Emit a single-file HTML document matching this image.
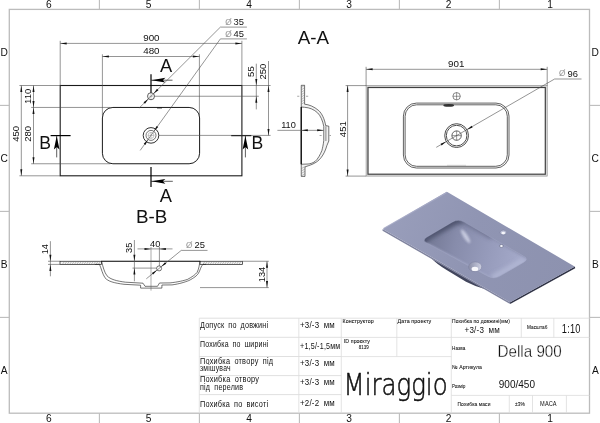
<!DOCTYPE html>
<html lang="uk"><head><meta charset="utf-8"><title>Miraggio Della 900</title>
<style>
html,body{margin:0;padding:0;background:#fff;}
body{width:600px;height:423px;overflow:hidden;font-family:"Liberation Sans",Arial,sans-serif;}
svg{display:block;will-change:transform;}
</style></head><body>
<svg width="600" height="423" viewBox="0 0 600 423">
<rect width="600" height="423" fill="#fff"/>
<rect x="9.3" y="9.4" width="580.2" height="403.8" fill="none" stroke="#bcbcbc" stroke-width="1.3"/>
<line x1="99.40" y1="0.00" x2="99.40" y2="9.40" stroke="#bcbcbc" stroke-width="1.1" />
<line x1="99.40" y1="413.20" x2="99.40" y2="423.00" stroke="#bcbcbc" stroke-width="1.1" />
<line x1="199.40" y1="0.00" x2="199.40" y2="9.40" stroke="#bcbcbc" stroke-width="1.1" />
<line x1="199.40" y1="413.20" x2="199.40" y2="423.00" stroke="#bcbcbc" stroke-width="1.1" />
<line x1="299.40" y1="0.00" x2="299.40" y2="9.40" stroke="#bcbcbc" stroke-width="1.1" />
<line x1="299.40" y1="413.20" x2="299.40" y2="423.00" stroke="#bcbcbc" stroke-width="1.1" />
<line x1="399.40" y1="0.00" x2="399.40" y2="9.40" stroke="#bcbcbc" stroke-width="1.1" />
<line x1="399.40" y1="413.20" x2="399.40" y2="423.00" stroke="#bcbcbc" stroke-width="1.1" />
<line x1="499.40" y1="0.00" x2="499.40" y2="9.40" stroke="#bcbcbc" stroke-width="1.1" />
<line x1="499.40" y1="413.20" x2="499.40" y2="423.00" stroke="#bcbcbc" stroke-width="1.1" />
<line x1="0.00" y1="105.40" x2="9.30" y2="105.40" stroke="#bcbcbc" stroke-width="1.1" />
<line x1="589.50" y1="105.40" x2="600.00" y2="105.40" stroke="#bcbcbc" stroke-width="1.1" />
<line x1="0.00" y1="211.40" x2="9.30" y2="211.40" stroke="#bcbcbc" stroke-width="1.1" />
<line x1="589.50" y1="211.40" x2="600.00" y2="211.40" stroke="#bcbcbc" stroke-width="1.1" />
<line x1="0.00" y1="317.40" x2="9.30" y2="317.40" stroke="#bcbcbc" stroke-width="1.1" />
<line x1="589.50" y1="317.40" x2="600.00" y2="317.40" stroke="#bcbcbc" stroke-width="1.1" />
<text x="48.80" y="7.50" font-size="10.2" text-anchor="middle" fill="#111" font-family='"Liberation Sans", Arial, sans-serif' >6</text>
<text x="48.80" y="422.00" font-size="10.2" text-anchor="middle" fill="#111" font-family='"Liberation Sans", Arial, sans-serif' >6</text>
<text x="148.60" y="7.50" font-size="10.2" text-anchor="middle" fill="#111" font-family='"Liberation Sans", Arial, sans-serif' >5</text>
<text x="148.60" y="422.00" font-size="10.2" text-anchor="middle" fill="#111" font-family='"Liberation Sans", Arial, sans-serif' >5</text>
<text x="249.00" y="7.50" font-size="10.2" text-anchor="middle" fill="#111" font-family='"Liberation Sans", Arial, sans-serif' >4</text>
<text x="249.00" y="422.00" font-size="10.2" text-anchor="middle" fill="#111" font-family='"Liberation Sans", Arial, sans-serif' >4</text>
<text x="349.00" y="7.50" font-size="10.2" text-anchor="middle" fill="#111" font-family='"Liberation Sans", Arial, sans-serif' >3</text>
<text x="349.00" y="422.00" font-size="10.2" text-anchor="middle" fill="#111" font-family='"Liberation Sans", Arial, sans-serif' >3</text>
<text x="448.60" y="7.50" font-size="10.2" text-anchor="middle" fill="#111" font-family='"Liberation Sans", Arial, sans-serif' >2</text>
<text x="448.60" y="422.00" font-size="10.2" text-anchor="middle" fill="#111" font-family='"Liberation Sans", Arial, sans-serif' >2</text>
<text x="550.20" y="7.50" font-size="10.2" text-anchor="middle" fill="#111" font-family='"Liberation Sans", Arial, sans-serif' >1</text>
<text x="550.20" y="422.00" font-size="10.2" text-anchor="middle" fill="#111" font-family='"Liberation Sans", Arial, sans-serif' >1</text>
<text x="4.20" y="55.80" font-size="10.2" text-anchor="middle" fill="#111" font-family='"Liberation Sans", Arial, sans-serif' >D</text>
<text x="595.30" y="55.80" font-size="10.2" text-anchor="middle" fill="#111" font-family='"Liberation Sans", Arial, sans-serif' >D</text>
<text x="4.20" y="161.80" font-size="10.2" text-anchor="middle" fill="#111" font-family='"Liberation Sans", Arial, sans-serif' >C</text>
<text x="595.30" y="161.80" font-size="10.2" text-anchor="middle" fill="#111" font-family='"Liberation Sans", Arial, sans-serif' >C</text>
<text x="4.20" y="267.80" font-size="10.2" text-anchor="middle" fill="#111" font-family='"Liberation Sans", Arial, sans-serif' >B</text>
<text x="595.30" y="267.80" font-size="10.2" text-anchor="middle" fill="#111" font-family='"Liberation Sans", Arial, sans-serif' >B</text>
<text x="4.20" y="373.80" font-size="10.2" text-anchor="middle" fill="#111" font-family='"Liberation Sans", Arial, sans-serif' >A</text>
<text x="595.30" y="373.80" font-size="10.2" text-anchor="middle" fill="#111" font-family='"Liberation Sans", Arial, sans-serif' >A</text>
<rect x="60.2" y="85.5" width="181.70" height="90.30" fill="none" stroke="#1a1a1a" stroke-width="1.1"/>
<rect x="102.4" y="107.45" width="97.20" height="56.30" rx="10.5" ry="10.5" fill="none" stroke="#1a1a1a" stroke-width="1.0"/>
<circle cx="151.00" cy="96.25" r="3.50" fill="none" stroke="#1a1a1a" stroke-width="0.7"/>
<line x1="148.50" y1="96.25" x2="153.50" y2="96.25" stroke="#777" stroke-width="0.4" />
<line x1="151.00" y1="93.75" x2="151.00" y2="98.75" stroke="#777" stroke-width="0.4" />
<circle cx="151.00" cy="135.40" r="7.80" fill="none" stroke="#1a1a1a" stroke-width="0.9"/>
<circle cx="151.00" cy="135.40" r="5.00" fill="none" stroke="#1a1a1a" stroke-width="0.6"/>
<circle cx="151.00" cy="135.40" r="3.00" fill="none" stroke="#777" stroke-width="0.4"/>
<line x1="148.00" y1="135.40" x2="154.00" y2="135.40" stroke="#777" stroke-width="0.4" />
<line x1="151.00" y1="132.40" x2="151.00" y2="138.40" stroke="#777" stroke-width="0.4" />
<line x1="157.00" y1="107.90" x2="162.00" y2="107.90" stroke="#1a1a1a" stroke-width="1.0" />
<line x1="151.00" y1="74.30" x2="151.00" y2="92.80" stroke="#000" stroke-width="1.2" />
<line x1="151.00" y1="80.20" x2="172.50" y2="80.20" stroke="#1a1a1a" stroke-width="0.7" />
<polygon points="151.40,80.20 165.40,77.80 162.80,80.20 165.40,82.60" fill="#000"/>
<line x1="151.00" y1="167.00" x2="151.00" y2="187.00" stroke="#000" stroke-width="1.2" />
<line x1="151.00" y1="181.30" x2="172.80" y2="181.30" stroke="#1a1a1a" stroke-width="0.7" />
<polygon points="151.40,181.30 165.40,178.90 162.80,181.30 165.40,183.70" fill="#000"/>
<text x="166.00" y="72.40" font-size="18.3" text-anchor="middle" fill="#111" font-family='"Liberation Sans", Arial, sans-serif' >A</text>
<text x="165.90" y="202.00" font-size="18.3" text-anchor="middle" fill="#111" font-family='"Liberation Sans", Arial, sans-serif' >A</text>
<line x1="50.60" y1="135.60" x2="70.60" y2="135.60" stroke="#000" stroke-width="1.2" />
<line x1="56.70" y1="135.60" x2="56.70" y2="157.40" stroke="#1a1a1a" stroke-width="0.7" />
<polygon points="56.70,136.00 59.50,149.50 56.70,146.90 53.90,149.50" fill="#000"/>
<line x1="231.20" y1="135.60" x2="251.30" y2="135.60" stroke="#000" stroke-width="1.2" />
<line x1="245.40" y1="135.60" x2="245.40" y2="157.40" stroke="#1a1a1a" stroke-width="0.7" />
<polygon points="245.40,136.00 248.20,149.50 245.40,146.90 242.60,149.50" fill="#000"/>
<text x="45.00" y="149.00" font-size="17.6" text-anchor="middle" fill="#111" font-family='"Liberation Sans", Arial, sans-serif' >B</text>
<text x="257.30" y="148.90" font-size="17.6" text-anchor="middle" fill="#111" font-family='"Liberation Sans", Arial, sans-serif' >B</text>
<line x1="60.20" y1="40.80" x2="60.20" y2="85.50" stroke="#4d4d4d" stroke-width="0.6" />
<line x1="241.90" y1="40.80" x2="241.90" y2="85.50" stroke="#4d4d4d" stroke-width="0.6" />
<line x1="60.20" y1="43.40" x2="241.90" y2="43.40" stroke="#4d4d4d" stroke-width="0.6" />
<polygon points="60.20,43.40 66.70,42.40 66.70,44.40" fill="#111"/>
<polygon points="241.90,43.40 235.40,44.40 235.40,42.40" fill="#111"/>
<text x="151.40" y="40.90" font-size="9.8" text-anchor="middle" fill="#111" font-family='"Liberation Sans", Arial, sans-serif' >900</text>
<line x1="102.40" y1="54.30" x2="102.40" y2="115.45" stroke="#4d4d4d" stroke-width="0.6" />
<line x1="199.40" y1="54.30" x2="199.40" y2="115.45" stroke="#4d4d4d" stroke-width="0.6" />
<line x1="102.40" y1="56.50" x2="199.60" y2="56.50" stroke="#4d4d4d" stroke-width="0.6" />
<polygon points="102.40,56.50 108.90,55.50 108.90,57.50" fill="#111"/>
<polygon points="199.40,56.50 192.90,57.50 192.90,55.50" fill="#111"/>
<text x="151.40" y="54.40" font-size="9.8" text-anchor="middle" fill="#111" font-family='"Liberation Sans", Arial, sans-serif' >480</text>
<line x1="19.40" y1="85.50" x2="60.20" y2="85.50" stroke="#4d4d4d" stroke-width="0.6" />
<line x1="19.40" y1="175.80" x2="60.20" y2="175.80" stroke="#4d4d4d" stroke-width="0.6" />
<line x1="21.30" y1="85.50" x2="21.30" y2="175.80" stroke="#4d4d4d" stroke-width="0.6" />
<polygon points="21.30,85.50 22.30,92.00 20.30,92.00" fill="#111"/>
<polygon points="21.30,175.80 20.30,169.30 22.30,169.30" fill="#111"/>
<text x="18.90" y="133.80" font-size="9.5" text-anchor="middle" fill="#111" font-family='"Liberation Sans", Arial, sans-serif' transform="rotate(-90 18.90 133.80)" >450</text>
<line x1="31.20" y1="107.45" x2="110.40" y2="107.45" stroke="#4d4d4d" stroke-width="0.6" />
<line x1="31.20" y1="163.75" x2="110.40" y2="163.75" stroke="#4d4d4d" stroke-width="0.6" />
<line x1="33.50" y1="85.50" x2="33.50" y2="163.75" stroke="#4d4d4d" stroke-width="0.6" />
<polygon points="33.50,85.50 34.50,92.00 32.50,92.00" fill="#111"/>
<polygon points="33.50,107.45 32.50,100.95 34.50,100.95" fill="#111"/>
<polygon points="33.50,107.45 34.50,113.95 32.50,113.95" fill="#111"/>
<polygon points="33.50,163.75 32.50,157.25 34.50,157.25" fill="#111"/>
<text x="31.30" y="96.30" font-size="9.5" text-anchor="middle" fill="#111" font-family='"Liberation Sans", Arial, sans-serif' transform="rotate(-90 31.30 96.30)" >110</text>
<text x="31.30" y="133.80" font-size="9.5" text-anchor="middle" fill="#111" font-family='"Liberation Sans", Arial, sans-serif' transform="rotate(-90 31.30 133.80)" >280</text>
<line x1="241.90" y1="85.50" x2="270.60" y2="85.50" stroke="#4d4d4d" stroke-width="0.6" />
<line x1="154.50" y1="96.25" x2="258.80" y2="96.25" stroke="#4d4d4d" stroke-width="0.6" />
<line x1="158.80" y1="135.40" x2="270.60" y2="135.40" stroke="#4d4d4d" stroke-width="0.6" />
<line x1="256.30" y1="63.70" x2="256.30" y2="109.40" stroke="#4d4d4d" stroke-width="0.6" />
<polygon points="256.30,85.50 255.30,79.00 257.30,79.00" fill="#111"/>
<polygon points="256.30,96.25 257.30,102.75 255.30,102.75" fill="#111"/>
<line x1="268.50" y1="61.00" x2="268.50" y2="135.40" stroke="#4d4d4d" stroke-width="0.6" />
<polygon points="268.50,85.50 269.50,92.00 267.50,92.00" fill="#111"/>
<polygon points="268.50,135.40 267.50,128.90 269.50,128.90" fill="#111"/>
<text x="254.50" y="71.60" font-size="9.5" text-anchor="middle" fill="#111" font-family='"Liberation Sans", Arial, sans-serif' transform="rotate(-90 254.50 71.60)" >55</text>
<text x="266.40" y="71.60" font-size="9.5" text-anchor="middle" fill="#111" font-family='"Liberation Sans", Arial, sans-serif' transform="rotate(-90 266.40 71.60)" >250</text>
<line x1="220.40" y1="27.10" x2="246.90" y2="27.10" stroke="#4d4d4d" stroke-width="0.6" />
<line x1="220.40" y1="27.10" x2="138.96" y2="108.25" stroke="#4d4d4d" stroke-width="0.6" />
<polygon points="153.48,93.78 157.02,88.84 158.44,90.25" fill="#111"/>
<polygon points="148.52,98.72 144.98,103.66 143.56,102.25" fill="#111"/>
<line x1="220.40" y1="38.90" x2="246.90" y2="38.90" stroke="#4d4d4d" stroke-width="0.6" />
<line x1="220.40" y1="38.90" x2="140.20" y2="150.42" stroke="#4d4d4d" stroke-width="0.6" />
<polygon points="153.92,131.34 156.61,125.89 158.23,127.05" fill="#111"/>
<polygon points="148.08,139.46 145.39,144.91 143.77,143.75" fill="#111"/>
<text y="24.70" font-size="9.4" fill="#111" font-family='"Liberation Sans", Arial, sans-serif'><tspan x="225.20" y="24.60" font-size="8.4" fill="#505050" stroke="#fff" stroke-width="0.25" paint-order="fill stroke">Ø</tspan><tspan x="233.60" y="24.70">35</tspan></text>
<text y="37.00" font-size="9.4" fill="#111" font-family='"Liberation Sans", Arial, sans-serif'><tspan x="225.20" y="36.80" font-size="8.4" fill="#505050" stroke="#fff" stroke-width="0.25" paint-order="fill stroke">Ø</tspan><tspan x="233.60" y="37.00">45</tspan></text>
<text x="313.30" y="44.30" font-size="18.8" text-anchor="middle" fill="#111" font-family='"Liberation Sans", Arial, sans-serif' >A-A</text>
<path d="M301.25 85.3 L304.6 85.3 L304.6 104.2 C309 104.6 314 106.5 318.75 110.6 C322 113.6 324.5 119 325.7 125.6 L328.8 126.2 L328.8 141 L326.9 145.5 C325.5 150.5 323.5 154.5 321.25 157.4 C318.5 161 315 163.6 308.75 165.6 L305 166.9 L305 176.4 L301.25 176.4 Z" fill="#f2f2f2" stroke="#1a1a1a" stroke-width="0.6"/>
<path d="M301.25 107 L304.6 107.3 C309.5 107.6 314 109.5 317.5 112.75 C320.5 115.6 322.6 120.5 323.75 126.25 L323.75 140.5 C323.3 145 322.5 148 321.9 150.5 C320.3 154.6 317.7 159.3 315 161.5 C312.5 163.2 310 163.8 308.1 164 L301.25 164.25 Z" fill="#fff" stroke="#1a1a1a" stroke-width="0.6"/>
<path d="M301.25 87.5 L304.6 85.3 M301.25 89.9 L304.6 87.7 M301.25 92.3 L304.6 90.1 M301.25 94.7 L304.6 92.5 M301.25 97.1 L304.6 94.9 M301.25 99.5 L304.6 97.3 M301.25 101.9 L304.6 99.7 M301.25 104.3 L304.6 102.1 M301.25 168.7 L305 166.5 M301.25 171.1 L305 168.9 M301.25 173.5 L305 171.3 M301.25 175.9 L305 173.7 " stroke="#6a6a6a" stroke-width="0.4" fill="none"/>
<line x1="301.25" y1="106.90" x2="301.25" y2="164.30" stroke="#000" stroke-width="1.1" />
<line x1="325.90" y1="126.30" x2="325.90" y2="141.00" stroke="#1a1a1a" stroke-width="0.5" />
<line x1="297.20" y1="96.25" x2="299.30" y2="96.25" stroke="#4d4d4d" stroke-width="0.5" />
<line x1="306.00" y1="96.25" x2="308.20" y2="96.25" stroke="#4d4d4d" stroke-width="0.5" />
<line x1="319.60" y1="135.50" x2="321.60" y2="135.50" stroke="#4d4d4d" stroke-width="0.5" />
<line x1="329.50" y1="135.50" x2="331.00" y2="135.50" stroke="#4d4d4d" stroke-width="0.5" />
<line x1="277.40" y1="130.35" x2="323.60" y2="130.35" stroke="#4d4d4d" stroke-width="0.6" />
<polygon points="301.30,130.35 307.80,129.35 307.80,131.35" fill="#111"/>
<polygon points="323.70,130.35 317.20,131.35 317.20,129.35" fill="#111"/>
<text x="288.50" y="128.10" font-size="9.2" text-anchor="middle" fill="#111" font-family='"Liberation Sans", Arial, sans-serif' >110</text>
<rect x="366.1" y="85.6" width="181.10" height="90.50" fill="#dcdcdc" stroke="#8c8c8c" stroke-width="0.65"/>
<rect x="368.0" y="87.5" width="177.30" height="86.70" fill="#fff" stroke="#404040" stroke-width="1.2"/>
<rect x="403.4" y="103.1" width="105.60" height="64.90" rx="13" ry="13" fill="none" stroke="#3a3a3a" stroke-width="0.8"/>
<rect x="405.09999999999997" y="104.8" width="102.20" height="61.50" rx="11.5" ry="11.5" fill="none" stroke="#3a3a3a" stroke-width="0.8"/>
<circle cx="456.60" cy="96.25" r="3.70" fill="none" stroke="#3a3a3a" stroke-width="0.6"/>
<line x1="452.90" y1="96.25" x2="460.30" y2="96.25" stroke="#3a3a3a" stroke-width="0.5" />
<line x1="456.60" y1="92.50" x2="456.60" y2="100.00" stroke="#3a3a3a" stroke-width="0.5" />
<ellipse cx="448.7" cy="105.4" rx="5.4" ry="1.4" fill="#333"/>
<circle cx="456.60" cy="135.60" r="11.90" fill="none" stroke="#3a3a3a" stroke-width="0.9"/>
<circle cx="456.60" cy="135.60" r="10.30" fill="none" stroke="#3a3a3a" stroke-width="0.9"/>
<circle cx="456.60" cy="135.60" r="4.70" fill="none" stroke="#3a3a3a" stroke-width="0.8"/>
<line x1="451.90" y1="135.60" x2="461.30" y2="135.60" stroke="#3a3a3a" stroke-width="0.5" />
<line x1="456.60" y1="130.90" x2="456.60" y2="140.30" stroke="#3a3a3a" stroke-width="0.5" />
<line x1="447.00" y1="165.30" x2="466.00" y2="165.30" stroke="#aaa" stroke-width="0.5" />
<line x1="366.10" y1="66.80" x2="366.10" y2="85.60" stroke="#4d4d4d" stroke-width="0.6" />
<line x1="547.20" y1="66.80" x2="547.20" y2="85.60" stroke="#4d4d4d" stroke-width="0.6" />
<line x1="366.10" y1="69.30" x2="547.20" y2="69.30" stroke="#4d4d4d" stroke-width="0.6" />
<polygon points="366.10,69.30 372.60,68.30 372.60,70.30" fill="#111"/>
<polygon points="547.20,69.30 540.70,70.30 540.70,68.30" fill="#111"/>
<text x="456.30" y="66.80" font-size="9.8" text-anchor="middle" fill="#111" font-family='"Liberation Sans", Arial, sans-serif' >901</text>
<line x1="345.60" y1="85.60" x2="366.10" y2="85.60" stroke="#4d4d4d" stroke-width="0.6" />
<line x1="345.60" y1="176.10" x2="366.10" y2="176.10" stroke="#4d4d4d" stroke-width="0.6" />
<line x1="347.60" y1="85.60" x2="347.60" y2="176.10" stroke="#4d4d4d" stroke-width="0.6" />
<polygon points="347.60,85.60 348.60,92.10 346.60,92.10" fill="#111"/>
<polygon points="347.60,176.10 346.60,169.60 348.60,169.60" fill="#111"/>
<text x="345.70" y="129.20" font-size="9.5" text-anchor="middle" fill="#111" font-family='"Liberation Sans", Arial, sans-serif' transform="rotate(-90 345.70 129.20)" >451</text>
<line x1="554.60" y1="79.00" x2="581.50" y2="79.00" stroke="#4d4d4d" stroke-width="0.6" />
<line x1="554.60" y1="79.00" x2="436.25" y2="147.35" stroke="#4d4d4d" stroke-width="0.6" />
<polygon points="466.90,129.65 471.60,125.78 472.60,127.51" fill="#111"/>
<polygon points="446.30,141.55 441.60,145.42 440.60,143.69" fill="#111"/>
<text y="76.60" font-size="9.4" fill="#111" font-family='"Liberation Sans", Arial, sans-serif'><tspan x="559.00" y="76.40" font-size="8.4" fill="#505050" stroke="#fff" stroke-width="0.25" paint-order="fill stroke">Ø</tspan><tspan x="567.60" y="76.60">96</tspan></text>
<text x="151.60" y="222.70" font-size="18.8" text-anchor="middle" fill="#111" font-family='"Liberation Sans", Arial, sans-serif' >B-B</text>
<rect x="60" y="261.25" width="41.5" height="3.15" fill="#f3f3f3" stroke="#1a1a1a" stroke-width="0.7"/>
<rect x="200" y="261.25" width="42.5" height="3.15" fill="#f3f3f3" stroke="#1a1a1a" stroke-width="0.7"/>
<path d="M62.4 264.40 L64.6 261.25 M64.8 264.40 L67.0 261.25 M67.2 264.40 L69.4 261.25 M69.6 264.40 L71.8 261.25 M72.0 264.40 L74.2 261.25 M74.4 264.40 L76.6 261.25 M76.8 264.40 L79.0 261.25 M79.2 264.40 L81.4 261.25 M81.6 264.40 L83.8 261.25 M84.0 264.40 L86.2 261.25 M86.4 264.40 L88.6 261.25 M88.8 264.40 L91.0 261.25 M91.2 264.40 L93.4 261.25 M93.6 264.40 L95.8 261.25 M96.0 264.40 L98.2 261.25 M98.4 264.40 L100.6 261.25 M202.9 264.40 L205.1 261.25 M205.3 264.40 L207.5 261.25 M207.7 264.40 L209.9 261.25 M210.1 264.40 L212.3 261.25 M212.5 264.40 L214.7 261.25 M214.9 264.40 L217.1 261.25 M217.3 264.40 L219.5 261.25 M219.7 264.40 L221.9 261.25 M222.1 264.40 L224.3 261.25 M224.5 264.40 L226.7 261.25 M226.9 264.40 L229.1 261.25 M229.3 264.40 L231.5 261.25 M231.7 264.40 L233.9 261.25 M234.1 264.40 L236.3 261.25 M236.5 264.40 L238.7 261.25 M238.9 264.40 L241.1 261.25 " stroke="#6a6a6a" stroke-width="0.4" fill="none"/>
<line x1="101.20" y1="261.25" x2="200.20" y2="261.25" stroke="#000" stroke-width="1.1" />
<path d="M95 264.4 L99.5 264.4 C101.3 268.6 102.6 274.2 105 277.8 C108 281.4 114 283 124 284.3 L140.6 285.2 L140.6 288.1 L161.9 288.1 L161.9 285 L172 284.9 C180 283.8 185 282 188.75 280.6 C194 278 197 275.5 198.3 273.5 C200.5 270 200.8 266 203 264.4 L206 264.4" fill="none" stroke="#1a1a1a" stroke-width="0.6"/>
<path d="M101.6 261.3 C102.8 266.4 104.4 272.4 107 275.8 C110.4 279.4 116.5 281 125.5 282.2 L143 283.2 L145 286.3 L157.5 286.3 L159.5 283 L170 282.9 C178 282 183.5 280.7 187.5 279.4 C192 277 195.5 274.5 197 272.5 C199 269 199.3 264.5 200 261.3" fill="none" stroke="#1a1a1a" stroke-width="0.6"/>
<line x1="48.00" y1="261.25" x2="60.00" y2="261.25" stroke="#4d4d4d" stroke-width="0.6" />
<line x1="48.00" y1="264.40" x2="60.00" y2="264.40" stroke="#4d4d4d" stroke-width="0.6" />
<line x1="50.40" y1="241.20" x2="50.40" y2="276.30" stroke="#4d4d4d" stroke-width="0.6" />
<polygon points="50.40,261.25 49.40,254.75 51.40,254.75" fill="#111"/>
<polygon points="50.40,264.40 51.40,270.90 49.40,270.90" fill="#111"/>
<text x="48.00" y="249.20" font-size="9.2" text-anchor="middle" fill="#111" font-family='"Liberation Sans", Arial, sans-serif' transform="rotate(-90 48.00 249.20)" >14</text>
<line x1="134.40" y1="240.00" x2="134.40" y2="281.30" stroke="#4d4d4d" stroke-width="0.6" />
<polygon points="134.40,261.25 133.40,254.75 135.40,254.75" fill="#111"/>
<polygon points="134.40,268.10 135.40,274.60 133.40,274.60" fill="#111"/>
<line x1="132.50" y1="268.10" x2="156.60" y2="268.10" stroke="#4d4d4d" stroke-width="0.6" />
<text x="132.40" y="247.80" font-size="9.2" text-anchor="middle" fill="#111" font-family='"Liberation Sans", Arial, sans-serif' transform="rotate(-90 132.40 247.80)" >35</text>
<line x1="151.00" y1="247.00" x2="151.00" y2="290.60" stroke="#555" stroke-width="0.5" />
<line x1="159.40" y1="247.00" x2="159.40" y2="266.00" stroke="#4d4d4d" stroke-width="0.6" />
<line x1="137.50" y1="248.90" x2="172.50" y2="248.90" stroke="#4d4d4d" stroke-width="0.6" />
<polygon points="151.00,248.90 144.50,249.90 144.50,247.90" fill="#111"/>
<polygon points="159.40,248.90 165.90,247.90 165.90,249.90" fill="#111"/>
<text x="155.20" y="246.60" font-size="9.2" text-anchor="middle" fill="#111" font-family='"Liberation Sans", Arial, sans-serif' >40</text>
<circle cx="159.10" cy="268.40" r="2.50" fill="none" stroke="#1a1a1a" stroke-width="0.6"/>
<line x1="181.25" y1="250.40" x2="207.50" y2="250.40" stroke="#4d4d4d" stroke-width="0.6" />
<line x1="181.25" y1="250.40" x2="146.30" y2="278.81" stroke="#4d4d4d" stroke-width="0.6" />
<polygon points="161.04,266.82 165.07,262.26 166.33,263.82" fill="#111"/>
<polygon points="157.16,269.98 153.13,274.54 151.87,272.98" fill="#111"/>
<text y="248.20" font-size="9.4" fill="#111" font-family='"Liberation Sans", Arial, sans-serif'><tspan x="186.10" y="248.10" font-size="8.4" fill="#505050" stroke="#fff" stroke-width="0.25" paint-order="fill stroke">Ø</tspan><tspan x="194.50" y="248.20">25</tspan></text>
<line x1="242.50" y1="261.25" x2="268.80" y2="261.25" stroke="#4d4d4d" stroke-width="0.6" />
<line x1="200.00" y1="287.60" x2="268.80" y2="287.60" stroke="#4d4d4d" stroke-width="0.6" />
<line x1="267.00" y1="261.25" x2="267.00" y2="287.60" stroke="#4d4d4d" stroke-width="0.6" />
<polygon points="267.00,261.25 268.00,267.75 266.00,267.75" fill="#111"/>
<polygon points="267.00,287.60 266.00,281.10 268.00,281.10" fill="#111"/>
<text x="264.50" y="274.50" font-size="9.2" text-anchor="middle" fill="#111" font-family='"Liberation Sans", Arial, sans-serif' transform="rotate(-90 264.50 274.50)" >134</text>
<defs>
<linearGradient id="gTop" gradientUnits="userSpaceOnUse" x1="385" y1="215" x2="570" y2="280"><stop offset="0" stop-color="#999ebb"/><stop offset="0.45" stop-color="#9095b3"/><stop offset="1" stop-color="#8d92af"/></linearGradient>
<linearGradient id="gBowl" gradientUnits="userSpaceOnUse" x1="428" y1="238" x2="524" y2="262"><stop offset="0" stop-color="#747995"/><stop offset="0.28" stop-color="#878cab"/><stop offset="0.65" stop-color="#979cbc"/><stop offset="1" stop-color="#a6abcb"/></linearGradient>
<linearGradient id="gDr" x1="0" y1="0" x2="1" y2="0"><stop offset="0" stop-color="#8a8ea8"/><stop offset="1" stop-color="#cdd0e2"/></linearGradient>
<filter id="b2" x="-50%" y="-50%" width="200%" height="200%"><feGaussianBlur stdDeviation="2"/></filter>
<filter id="b1" x="-50%" y="-50%" width="200%" height="200%"><feGaussianBlur stdDeviation="1.1"/></filter>
<clipPath id="cb"><path d="M452.17 222.16 Q458.20 218.60 464.27 222.08 L523.80 256.22 Q529.00 259.20 523.82 262.22 L500.05 276.08 Q494.00 279.60 487.85 276.25 L426.87 243.07 Q421.60 240.20 426.77 237.15 Z"/></clipPath>
</defs>
<path d="M431.5 258.5 L485.5 289.2 Q476 287 466 281.8 L447 270.3 Q437 264.3 431.5 258.5 Z" fill="#42465d"/>
<path d="M382.6 229 L510.1 302.3 L510.2 304.0 L382.5 230.8 Z" fill="#80849f"/>
<path d="M510.1 302.3 L574.9 266.6 L575.2 268.2 L510.2 304.0 Z" fill="#2f3245"/>
<path d="M446.28 192.00 Q446.80 191.70 447.32 192.00 L574.21 266.20 Q574.90 266.60 574.20 266.99 L510.80 301.91 Q510.10 302.30 509.41 301.90 L383.81 229.70 Q382.60 229.00 383.81 228.30 Z" fill="url(#gTop)"/>
<path d="M383.6 228.6 L446.8 192.4" stroke="#a9adc8" stroke-width="1.2" fill="none" opacity="0.8"/>
<path d="M452.17 222.16 Q458.20 218.60 464.27 222.08 L523.80 256.22 Q529.00 259.20 523.82 262.22 L500.05 276.08 Q494.00 279.60 487.85 276.25 L426.87 243.07 Q421.60 240.20 426.77 237.15 Z" fill="url(#gBowl)"/>
<g clip-path="url(#cb)">
<path d="M420.5 247 L423.5 237.5 L455 219.8 L463 218.5" stroke="#50556f" stroke-width="10" fill="none" filter="url(#b2)"/>
<path d="M460 218 L492 236.5" stroke="#676c89" stroke-width="6" fill="none" filter="url(#b2)" opacity="0.85"/>
<path d="M490 235.5 L528 257.5" stroke="#8388a6" stroke-width="3.5" fill="none" filter="url(#b1)" opacity="0.7"/>
<ellipse cx="465.6" cy="236.3" rx="2.1" ry="8" transform="rotate(-33 465.6 236.3)" fill="#dcdff0" filter="url(#b1)" opacity="0.75"/>
<path d="M492 278 L524 260" stroke="#b4b9d6" stroke-width="5" fill="none" filter="url(#b2)" opacity="0.9"/>
<path d="M426 243.5 L490 278" stroke="#a5aac9" stroke-width="2.5" fill="none" filter="url(#b1)" opacity="0.9"/>
</g>
<path d="M452.17 222.16 Q458.20 218.60 464.27 222.08 L523.80 256.22 Q529.00 259.20 523.82 262.22 L500.05 276.08 Q494.00 279.60 487.85 276.25 L426.87 243.07 Q421.60 240.20 426.77 237.15 Z" fill="none" stroke="#a3a8c6" stroke-width="0.7" opacity="0.6"/>
<ellipse cx="503.3" cy="232.5" rx="3.3" ry="2.4" fill="#b9bdd4" stroke="#737896" stroke-width="0.5"/>
<ellipse cx="503.3" cy="233.0" rx="1.8" ry="1.2" fill="#f6f6fb"/>
<ellipse cx="501.4" cy="246.0" rx="1.9" ry="1.5" fill="#f0f1f8" stroke="#5f6482" stroke-width="0.6"/>
<ellipse cx="475.1" cy="266.8" rx="6.6" ry="4.9" fill="url(#gDr)" stroke="#7c819f" stroke-width="0.5"/>
<ellipse cx="474.9" cy="268.9" rx="3.3" ry="2.2" fill="#f7f7fb"/>
<line x1="199.30" y1="318.20" x2="341.30" y2="318.20" stroke="#dcdcdc" stroke-width="0.9" />
<line x1="199.30" y1="337.30" x2="341.30" y2="337.30" stroke="#dcdcdc" stroke-width="0.9" />
<line x1="199.30" y1="356.50" x2="341.30" y2="356.50" stroke="#dcdcdc" stroke-width="0.9" />
<line x1="199.30" y1="375.60" x2="341.30" y2="375.60" stroke="#dcdcdc" stroke-width="0.9" />
<line x1="199.30" y1="394.60" x2="341.30" y2="394.60" stroke="#dcdcdc" stroke-width="0.9" />
<line x1="199.30" y1="318.20" x2="199.30" y2="413.20" stroke="#dcdcdc" stroke-width="0.8" />
<line x1="298.80" y1="318.20" x2="298.80" y2="413.20" stroke="#dcdcdc" stroke-width="0.8" />
<line x1="341.30" y1="318.20" x2="341.30" y2="413.20" stroke="#dcdcdc" stroke-width="0.8" />
<line x1="396.80" y1="318.20" x2="396.80" y2="356.60" stroke="#dcdcdc" stroke-width="0.8" />
<line x1="451.30" y1="318.20" x2="451.30" y2="413.20" stroke="#dcdcdc" stroke-width="0.8" />
<line x1="341.30" y1="318.20" x2="589.50" y2="318.20" stroke="#dcdcdc" stroke-width="0.8" />
<line x1="341.30" y1="337.40" x2="451.30" y2="337.40" stroke="#dcdcdc" stroke-width="0.8" />
<line x1="341.30" y1="356.60" x2="451.30" y2="356.60" stroke="#dcdcdc" stroke-width="0.8" />
<line x1="451.30" y1="337.40" x2="589.50" y2="337.40" stroke="#dcdcdc" stroke-width="0.8" />
<line x1="451.30" y1="395.40" x2="589.50" y2="395.40" stroke="#dcdcdc" stroke-width="0.8" />
<line x1="521.30" y1="318.20" x2="521.30" y2="337.40" stroke="#dcdcdc" stroke-width="0.8" />
<line x1="553.80" y1="318.20" x2="553.80" y2="337.40" stroke="#dcdcdc" stroke-width="0.8" />
<line x1="509.30" y1="395.40" x2="509.30" y2="413.20" stroke="#dcdcdc" stroke-width="0.8" />
<line x1="532.50" y1="395.40" x2="532.50" y2="413.20" stroke="#dcdcdc" stroke-width="0.8" />
<line x1="566.40" y1="395.40" x2="566.40" y2="413.20" stroke="#dcdcdc" stroke-width="0.8" />
<text x="200.00" y="328.30" font-size="9.0" text-anchor="start" fill="#111" font-weight="normal" font-family='"Liberation Sans", Arial, sans-serif' textLength="68.3" lengthAdjust="spacingAndGlyphs" word-spacing="2.2" letter-spacing="0.25">Допуск по довжині</text>
<text x="200.00" y="347.40" font-size="9.0" text-anchor="start" fill="#111" font-weight="normal" font-family='"Liberation Sans", Arial, sans-serif' textLength="68.5" lengthAdjust="spacingAndGlyphs" word-spacing="2.2" letter-spacing="0.25">Похибка по ширині</text>
<text x="200.00" y="363.80" font-size="8.2" text-anchor="start" fill="#111" font-weight="normal" font-family='"Liberation Sans", Arial, sans-serif' textLength="73.3" lengthAdjust="spacingAndGlyphs" word-spacing="2.2" letter-spacing="0.25">Похибка отвору під</text>
<text x="200.00" y="371.40" font-size="8.2" text-anchor="start" fill="#111" font-weight="normal" font-family='"Liberation Sans", Arial, sans-serif' textLength="30.8" lengthAdjust="spacingAndGlyphs" word-spacing="2.2" letter-spacing="0.25">змішувач</text>
<text x="200.00" y="381.80" font-size="8.2" text-anchor="start" fill="#111" font-weight="normal" font-family='"Liberation Sans", Arial, sans-serif' textLength="59.2" lengthAdjust="spacingAndGlyphs" word-spacing="2.2" letter-spacing="0.25">Похибка отвору</text>
<text x="200.00" y="390.00" font-size="8.2" text-anchor="start" fill="#111" font-weight="normal" font-family='"Liberation Sans", Arial, sans-serif' textLength="43.3" lengthAdjust="spacingAndGlyphs" word-spacing="2.2" letter-spacing="0.25">під перелив</text>
<text x="200.00" y="406.70" font-size="9.0" text-anchor="start" fill="#111" font-weight="normal" font-family='"Liberation Sans", Arial, sans-serif' textLength="68.3" lengthAdjust="spacingAndGlyphs" word-spacing="2.2" letter-spacing="0.25">Похибка по висоті</text>
<text x="300.00" y="328.20" font-size="9.0" text-anchor="start" fill="#111" font-weight="normal" font-family='"Liberation Sans", Arial, sans-serif' textLength="35.0" lengthAdjust="spacingAndGlyphs" word-spacing="2.2" letter-spacing="0.25">+3/-3 мм</text>
<text x="300.00" y="348.60" font-size="9.0" text-anchor="start" fill="#111" font-weight="normal" font-family='"Liberation Sans", Arial, sans-serif' textLength="40.5" lengthAdjust="spacingAndGlyphs" word-spacing="2.2" letter-spacing="0.25">+1,5/-1,5мм</text>
<text x="300.00" y="366.40" font-size="9.0" text-anchor="start" fill="#111" font-weight="normal" font-family='"Liberation Sans", Arial, sans-serif' textLength="35.0" lengthAdjust="spacingAndGlyphs" word-spacing="2.2" letter-spacing="0.25">+3/-3 мм</text>
<text x="300.00" y="385.20" font-size="9.0" text-anchor="start" fill="#111" font-weight="normal" font-family='"Liberation Sans", Arial, sans-serif' textLength="35.0" lengthAdjust="spacingAndGlyphs" word-spacing="2.2" letter-spacing="0.25">+3/-3 мм</text>
<text x="300.00" y="405.60" font-size="9.0" text-anchor="start" fill="#111" font-weight="normal" font-family='"Liberation Sans", Arial, sans-serif' textLength="35.0" lengthAdjust="spacingAndGlyphs" word-spacing="2.2" letter-spacing="0.25">+2/-2 мм</text>
<text x="342.50" y="322.60" font-size="5.6" text-anchor="start" fill="#111" font-weight="normal" font-family='"Liberation Sans", Arial, sans-serif' textLength="31.3" lengthAdjust="spacingAndGlyphs" stroke="#111" stroke-width="0.08" letter-spacing="0.1">Конструктор</text>
<text x="397.50" y="322.60" font-size="5.6" text-anchor="start" fill="#111" font-weight="normal" font-family='"Liberation Sans", Arial, sans-serif' textLength="33.8" lengthAdjust="spacingAndGlyphs" stroke="#111" stroke-width="0.08" letter-spacing="0.1">Дата проекту</text>
<text x="343.80" y="343.00" font-size="5.6" text-anchor="start" fill="#111" font-weight="normal" font-family='"Liberation Sans", Arial, sans-serif' textLength="26.2" lengthAdjust="spacingAndGlyphs" stroke="#111" stroke-width="0.08" letter-spacing="0.1">ID проєкту</text>
<text x="358.80" y="348.80" font-size="5.0" text-anchor="start" fill="#111" font-weight="normal" font-family='"Liberation Sans", Arial, sans-serif' textLength="10.0" lengthAdjust="spacingAndGlyphs" stroke="#111" stroke-width="0.08" letter-spacing="0.1">8139</text>
<text x="343.6" y="394.5" font-size="30.4" textLength="104" lengthAdjust="spacingAndGlyphs" fill="#111" font-family='"DejaVu Sans", "Liberation Sans", sans-serif' font-weight="200" stroke="#111" stroke-width="0.55" stroke-linejoin="round">Miraggio</text>
<text x="452.00" y="323.00" font-size="5.6" text-anchor="start" fill="#111" font-weight="normal" font-family='"Liberation Sans", Arial, sans-serif' textLength="58.0" lengthAdjust="spacingAndGlyphs" stroke="#111" stroke-width="0.08" letter-spacing="0.1">Похибка по довжині(мм)</text>
<text x="464.50" y="333.00" font-size="9.2" text-anchor="start" fill="#111" font-weight="normal" font-family='"Liberation Sans", Arial, sans-serif' textLength="35.5" lengthAdjust="spacingAndGlyphs" word-spacing="2.2" letter-spacing="0.25">+3/-3 мм</text>
<text x="527.00" y="328.80" font-size="5.4" text-anchor="start" fill="#111" font-weight="normal" font-family='"Liberation Sans", Arial, sans-serif' textLength="20.5" lengthAdjust="spacingAndGlyphs" stroke="#111" stroke-width="0.08" letter-spacing="0.1">Масштаб</text>
<text x="561.80" y="332.50" font-size="12.2" text-anchor="start" fill="#111" font-weight="normal" font-family='"Liberation Sans", Arial, sans-serif' textLength="18.8" lengthAdjust="spacingAndGlyphs" word-spacing="2.2" letter-spacing="0.25">1:10</text>
<text x="452.00" y="350.00" font-size="5.6" text-anchor="start" fill="#111" font-weight="normal" font-family='"Liberation Sans", Arial, sans-serif' textLength="13.5" lengthAdjust="spacingAndGlyphs" stroke="#111" stroke-width="0.08" letter-spacing="0.1">Назва</text>
<text x="497.50" y="357.00" font-size="16.6" text-anchor="start" fill="#111" font-weight="normal" font-family='"Liberation Sans", Arial, sans-serif' textLength="64.3" lengthAdjust="spacingAndGlyphs" stroke="#fff" stroke-width="0.3" paint-order="fill stroke">Della 900</text>
<text x="452.00" y="369.20" font-size="5.6" text-anchor="start" fill="#111" font-weight="normal" font-family='"Liberation Sans", Arial, sans-serif' textLength="30.0" lengthAdjust="spacingAndGlyphs" stroke="#111" stroke-width="0.08" letter-spacing="0.1">№ Артикула</text>
<text x="452.00" y="388.20" font-size="5.6" text-anchor="start" fill="#111" font-weight="normal" font-family='"Liberation Sans", Arial, sans-serif' textLength="13.5" lengthAdjust="spacingAndGlyphs" stroke="#111" stroke-width="0.08" letter-spacing="0.1">Розмір</text>
<text x="498.80" y="387.50" font-size="11.8" text-anchor="start" fill="#111" font-weight="normal" font-family='"Liberation Sans", Arial, sans-serif' textLength="36.2" lengthAdjust="spacingAndGlyphs" fill="#1c1c1c">900/450</text>
<text x="457.50" y="406.20" font-size="5.6" text-anchor="start" fill="#111" font-weight="normal" font-family='"Liberation Sans", Arial, sans-serif' textLength="33.0" lengthAdjust="spacingAndGlyphs" stroke="#111" stroke-width="0.08" letter-spacing="0.1">Похибка маси</text>
<text x="515.00" y="406.20" font-size="5.6" text-anchor="start" fill="#111" font-weight="normal" font-family='"Liberation Sans", Arial, sans-serif' textLength="10.0" lengthAdjust="spacingAndGlyphs" stroke="#111" stroke-width="0.08" letter-spacing="0.1">±3%</text>
<text x="540.00" y="406.20" font-size="6.8" text-anchor="start" fill="#111" font-weight="normal" font-family='"Liberation Sans", Arial, sans-serif' textLength="16.8" lengthAdjust="spacingAndGlyphs" word-spacing="2.2" letter-spacing="0.25">МАСА</text>
</svg></body></html>
